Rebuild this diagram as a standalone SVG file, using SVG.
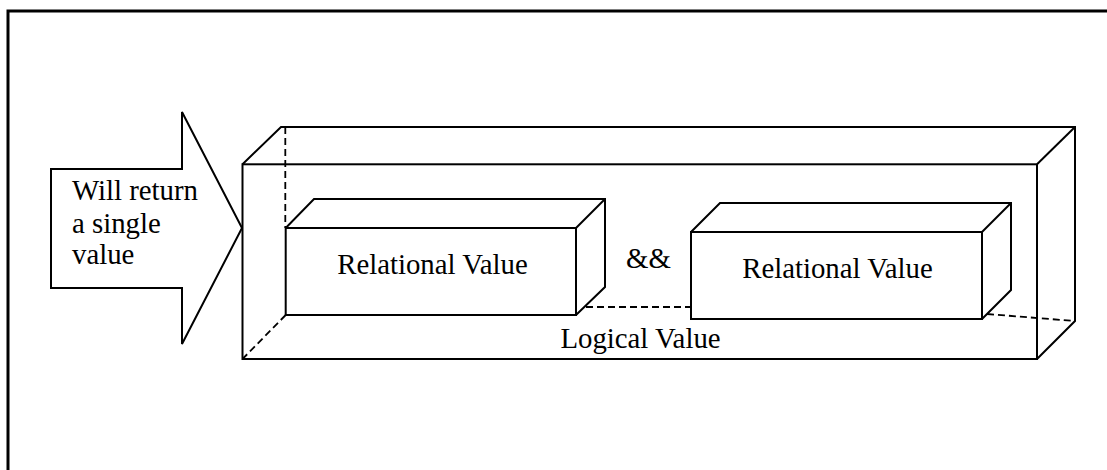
<svg xmlns="http://www.w3.org/2000/svg" width="1107" height="470" viewBox="0 0 1107 470">
  <style>
    .edge { fill: none; stroke: #000; stroke-width: 2; stroke-linejoin: miter; }
    .face { fill: #fff; stroke: #000; stroke-width: 2; }
    .hidden { fill: none; stroke: #000; stroke-width: 1.8; stroke-dasharray: 7 4; }
    .lbl { font-family: "Liberation Serif", "Times New Roman", serif; font-size: 28.8px; fill: #000; }
  </style>
  <rect width="1107" height="470" fill="#fff"/>
  <!-- page frame (runs past the right and bottom edges) -->
  <rect x="8" y="11" width="1200" height="600" fill="none" stroke="#000" stroke-width="3"/>

  <!-- block arrow with its caption -->
  <g id="arrow">
    <polygon class="face" points="51,169 182,169 182,112 242,228 182,344 182,288 51,288"/>
    <text class="lbl" x="72" y="200">Will return</text>
    <text class="lbl" x="72" y="232.5">a single</text>
    <text class="lbl" x="72" y="264">value</text>
  </g>

  <!-- outer box: Logical Value -->
  <g id="logical">
    <rect class="edge" x="242.5" y="164.3" width="794.5" height="194.7"/>
    <polyline class="edge" points="242.5,164.3 281,127 1075,127 1075,321 1037,359"/>
    <line class="edge" x1="1037" y1="164.3" x2="1075" y2="127"/>
    <text class="lbl" x="640.5" y="348" text-anchor="middle">Logical Value</text>
  </g>

  <!-- inner box 1 -->
  <g id="relational1">
    <rect class="edge" x="285.7" y="228" width="290.3" height="87"/>
    <polyline class="edge" points="285.7,228 314,199 605,199 605,287 576,315"/>
    <line class="edge" x1="576" y1="228" x2="605" y2="199"/>
    <text class="lbl" x="432.5" y="274" text-anchor="middle">Relational Value</text>
  </g>

  <!-- operator -->
  <g id="and">
    <text class="lbl" x="648.5" y="268.3" text-anchor="middle">&amp;&amp;</text>
  </g>

  <!-- inner box 2 -->
  <g id="relational2">
    <rect class="edge" x="691" y="232" width="291" height="87"/>
    <polyline class="edge" points="691,232 720,203 1011,203 1011,290 982,319"/>
    <line class="edge" x1="982" y1="232" x2="1011" y2="203"/>
    <text class="lbl" x="837.5" y="278.3" text-anchor="middle">Relational Value</text>
  </g>

  <!-- hidden edges -->
  <g id="connectors">
    <line class="hidden" x1="285.3" y1="127" x2="285.3" y2="228"/>
    <line class="hidden" x1="285.7" y1="315" x2="242.5" y2="359"/>
    <line class="hidden" x1="586" y1="307" x2="691" y2="307"/>
    <line class="hidden" x1="987" y1="314" x2="1075" y2="321"/>
  </g>
</svg>
